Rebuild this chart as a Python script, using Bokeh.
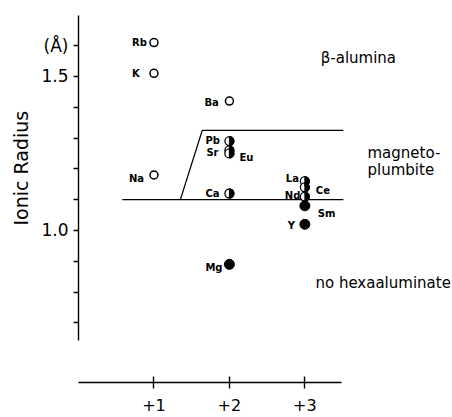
import math
from bokeh.plotting import figure
from bokeh.models import Range1d, FixedTicker, ColumnDataSource, Title
from bokeh.core.properties import value
from bokeh.embed import file_html
from bokeh.resources import INLINE

# ---------------- data ----------------
elements = ["Rb", "K", "Na", "Ba", "Pb", "Sr", "Eu", "Ca", "Mg", "La", "Ce", "Nd", "Sm", "Y"]
valence = [1, 1, 1, 2, 2, 2, 2, 2, 2, 3, 3, 3, 3, 3]
radius = [1.61, 1.51, 1.18, 1.42, 1.29, 1.26, 1.25, 1.12, 0.89, 1.16, 1.14, 1.11, 1.08, 1.02]
kind = ["open", "open", "open", "open", "half", "half", "half", "half", "filled",
        "half", "half", "half", "filled", "filled"]

lower_boundary_x = [0.58, 3.51]
lower_boundary_y = [1.10, 1.10]
upper_boundary_x = [1.35, 1.64, 3.51]
upper_boundary_y = [1.10, 1.325, 1.325]

region_labels = ["β-alumina", "magneto-", "plumbite", "no hexaaluminate"]
region_x = [3.21, 3.83, 3.83, 3.14]
region_y = [1.56, 1.25, 1.197, 0.83]

x_ticks = [1, 2, 3]
x_tick_labels = ["+1", "+2", "+3"]
y_major_ticks = [1.0, 1.5, 1.6]
y_major_labels = ["1.0", "1.5", "(Å)"]
y_minor_ticks = [0.7, 0.8, 0.9, 1.1, 1.2, 1.3, 1.4]
y_title = "Ionic Radius"

# ---------------- label styling (screen px) ----------------
label_style = {
    "Rb": (-22, 0), "K": (-22, 0), "Na": (-25, 3),
    "Ba": (-25, 1), "Pb": (-24, -1), "Sr": (-23, 2),
    "Eu": (10, 4), "Ca": (-24, 0), "Mg": (-24, 3),
    "La": (-19, -3), "Ce": (11, 3), "Nd": (-20, -1),
    "Sm": (13, 8), "Y": (-17, 1),
}

src = ColumnDataSource(dict(
    x=valence, y=radius, name=elements,
    xo=[label_style[e][0] for e in elements],
    yo=[label_style[e][1] for e in elements],
))

def sub(k):
    idx = [i for i, t in enumerate(kind) if t == k]
    return ColumnDataSource(dict(x=[valence[i] for i in idx], y=[radius[i] for i in idx]))

FONT = "DejaVu Sans"

p = figure(width=452, height=417, output_backend="svg", toolbar_location=None,
           x_range=Range1d(0, 4.93), y_range=Range1d(0.5065, 1.714),
           min_border_left=78, min_border_right=2, min_border_top=10, min_border_bottom=35)
p.outline_line_color = None
p.xgrid.visible = False
p.ygrid.visible = False
p.background_fill_color = "white"
p.border_fill_color = "white"

# x axis
xa = p.xaxis[0]
xa.ticker = FixedTicker(ticks=x_ticks, minor_ticks=[])
xa.major_label_overrides = {t: l for t, l in zip(x_ticks, x_tick_labels)}
xa.bounds = (0, 3.48)
xa.major_tick_in = 6
xa.major_tick_out = 6
xa.minor_tick_in = 0
xa.minor_tick_out = 0
xa.axis_line_width = 1.4
xa.major_tick_line_width = 1.4
xa.major_label_standoff = 10
xa.major_label_text_font = FONT
xa.major_label_text_font_size = "16px"
xa.major_label_text_color = "black"
xa.axis_line_color = "black"

# y axis
ya = p.yaxis[0]
ya.ticker = FixedTicker(ticks=y_major_ticks, minor_ticks=y_minor_ticks)
ya.major_label_overrides = {t: l for t, l in zip(y_major_ticks, y_major_labels)}
ya.bounds = (0.643, 1.698)
ya.major_tick_in = 0
ya.major_tick_out = 5
ya.minor_tick_in = 0
ya.minor_tick_out = 5
ya.axis_line_width = 1.4
ya.major_tick_line_width = 1.3
ya.minor_tick_line_width = 1.3
ya.minor_tick_line_color = "black"
ya.major_label_standoff = 5
ya.major_label_text_font = FONT
ya.major_label_text_font_size = "17px"
ya.major_label_text_color = "black"
ya.axis_line_color = "black"

# y-axis title as a side title, shifted up along the axis
p.add_layout(Title(text=y_title, align="left", offset=157, standoff=14,
                   text_font=FONT, text_font_size="19px", text_font_style="normal",
                   text_color="black"), "left")

# boundary lines
p.line(lower_boundary_x, lower_boundary_y, line_color="black", line_width=1.3)
p.line(upper_boundary_x, upper_boundary_y, line_color="black", line_width=1.3)

# markers
p.scatter("x", "y", source=sub("open"), size=8, fill_color="white",
          line_color="black", line_width=1.5)
hs = sub("half")
p.scatter("x", "y", source=hs, size=9, fill_color="white",
          line_color="black", line_width=1.3)
p.wedge("x", "y", source=hs, radius=4.5, radius_units="screen",
        start_angle=-math.pi / 2, end_angle=math.pi / 2, color="black")
p.scatter("x", "y", source=sub("filled"), size=10, fill_color="black",
          line_color="black")

# element labels
p.text("x", "y", text="name", source=src, x_offset="xo", y_offset="yo",
       text_font=value(FONT), text_font_size="10px", text_font_style="bold",
       text_align="left", text_baseline="middle", text_color="black")

# region labels
p.text(region_x, region_y, text=region_labels, text_font=value(FONT),
       text_font_size="15px", text_align="left", text_baseline="middle",
       text_color="black")

open("out.html", "w").write(file_html(p, INLINE))
